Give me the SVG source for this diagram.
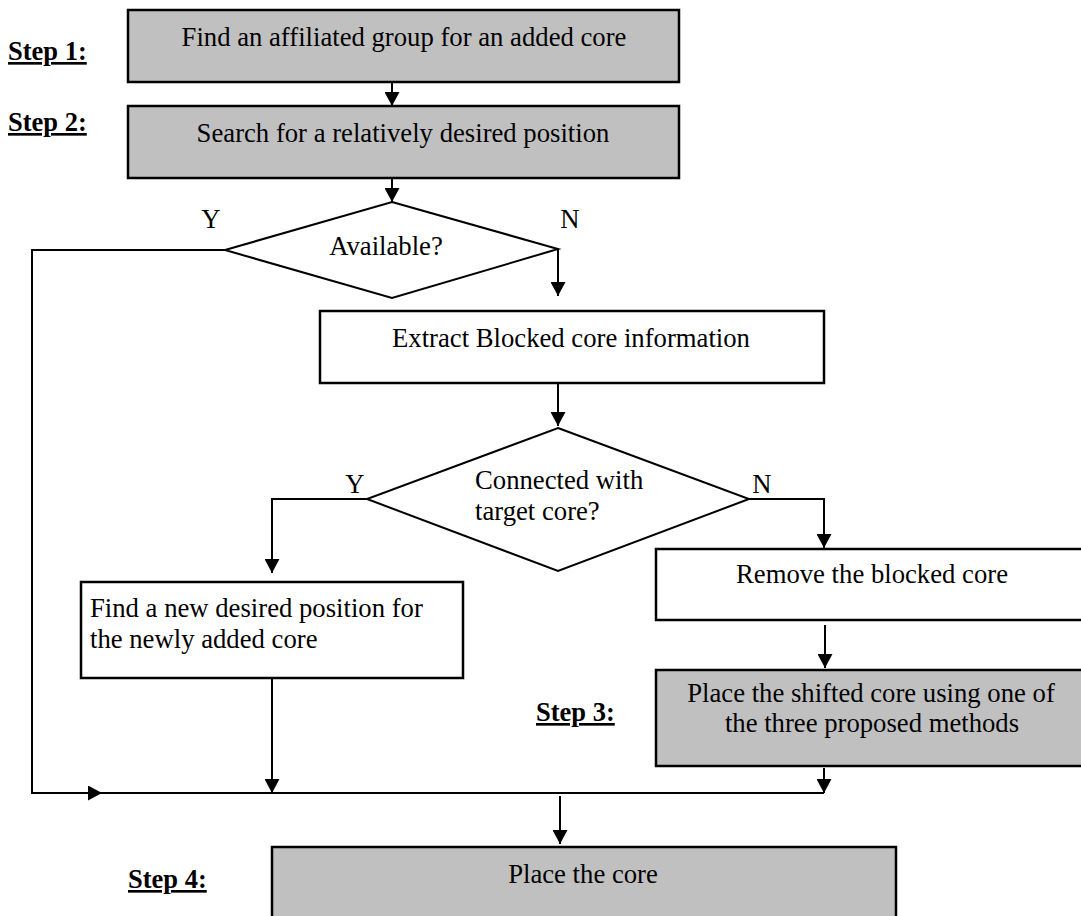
<svg xmlns="http://www.w3.org/2000/svg" width="1081" height="916" viewBox="0 0 1081 916">
<defs>
<marker id="ah" viewBox="0 0 14 15" refX="14" refY="7.5" markerWidth="14" markerHeight="15" markerUnits="userSpaceOnUse" orient="auto">
<path d="M0,0 L14,7.5 L0,15 Z" fill="#000"/>
</marker>
<style>
.box{stroke:#000;stroke-width:2.5}
.g{fill:#c0c0c0}
.w{fill:#fff}
.t{font-family:"Liberation Serif","Times New Roman",serif;font-size:26.7px;fill:#000}
.s{font-family:"Liberation Serif","Times New Roman",serif;font-size:26.5px;font-weight:bold;text-decoration:underline;fill:#000}
.c{fill:none;stroke:#000;stroke-width:2}
.d{fill:#fff;stroke:#000;stroke-width:2}
</style>
</defs>
<rect width="1081" height="916" fill="#fff"/>
<g id="connectors">
<path class="c" d="M392,82 V106" marker-end="url(#ah)"/>
<path class="c" d="M392,178 V202" marker-end="url(#ah)"/>
<path class="c" d="M225,250 H32 V793 H824"/>
<path class="c" d="M32,793 H102" marker-end="url(#ah)"/>
<path class="c" d="M558,249 V296" marker-end="url(#ah)"/>
<path class="c" d="M558,383 V426" marker-end="url(#ah)"/>
<path class="c" d="M367,499 H272 V573" marker-end="url(#ah)"/>
<path class="c" d="M749,499 H824 V548" marker-end="url(#ah)"/>
<path class="c" d="M825,625 V668" marker-end="url(#ah)"/>
<path class="c" d="M272,678 V793" marker-end="url(#ah)"/>
<path class="c" d="M824,768 V793" marker-end="url(#ah)"/>
<path class="c" d="M560,796 V844" marker-end="url(#ah)"/>
</g>
<g id="step1">
<rect class="box g" x="128" y="10" width="551" height="72"/>
<text class="t" x="404" y="46" text-anchor="middle">Find an affiliated group for an added core</text>
<text class="s" x="8" y="60">Step 1:</text>
</g>
<g id="step2">
<rect class="box g" x="128" y="106" width="551" height="72"/>
<text class="t" x="403" y="142" text-anchor="middle">Search for a relatively desired position</text>
<text class="s" x="8" y="131">Step 2:</text>
</g>
<g id="available">
<polygon class="d" points="392,202 558,249 392,298 225,250"/>
<text class="t" x="386" y="255" text-anchor="middle">Available?</text>
<text class="t" x="211" y="228" text-anchor="middle">Y</text>
<text class="t" x="570" y="228" text-anchor="middle">N</text>
</g>
<g id="extract">
<rect class="box w" x="320" y="311" width="504" height="72"/>
<text class="t" x="571" y="347" text-anchor="middle">Extract Blocked core information</text>
</g>
<g id="connected">
<polygon class="d" points="558,428 749,499 558,571 367,499"/>
<text class="t" x="475" y="489">Connected with</text>
<text class="t" x="475" y="520">target core?</text>
<text class="t" x="355" y="493" text-anchor="middle">Y</text>
<text class="t" x="762" y="493" text-anchor="middle">N</text>
</g>
<g id="findnew">
<rect class="box w" x="81" y="582" width="382" height="96"/>
<text class="t" x="90" y="617">Find a new desired position for</text>
<text class="t" x="90" y="648">the newly added core</text>
</g>
<g id="remove">
<rect class="box w" x="656" y="549" width="440" height="71"/>
<text class="t" x="872" y="583" text-anchor="middle">Remove the blocked core</text>
</g>
<g id="step3">
<rect class="box g" x="656" y="670" width="440" height="96"/>
<text class="t" x="871" y="702" text-anchor="middle">Place the shifted core using one of</text>
<text class="t" x="872" y="732" text-anchor="middle">the three proposed methods</text>
<text class="s" x="536" y="721">Step 3:</text>
</g>
<g id="step4">
<rect class="box g" x="272" y="847" width="624" height="90"/>
<text class="t" x="583" y="883" text-anchor="middle">Place the core</text>
<text class="s" x="128" y="888">Step 4:</text>
</g>
</svg>
